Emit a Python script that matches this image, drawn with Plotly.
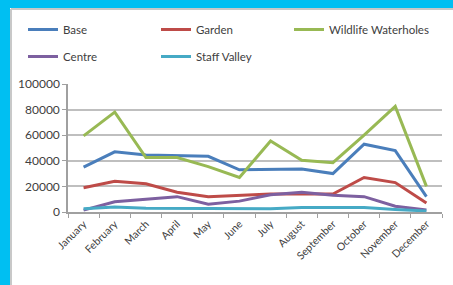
import plotly.graph_objects as go

months = ["January", "February", "March", "April", "May", "June", "July",
          "August", "September", "October", "November", "December"]
base = [35000, 47000, 44500, 44000, 43500, 33000, 33500, 33500, 30000, 53000, 48000, 12000]
garden = [19000, 24000, 22000, 15500, 12000, 13000, 14000, 14000, 14000, 27000, 23000, 7000]
wildlife = [59500, 78000, 42500, 42500, 35500, 27000, 55500, 40500, 38500, 60000, 82500, 20000]
centre = [1500, 8000, 10000, 12000, 6000, 8500, 13500, 15500, 13000, 12000, 4500, 1500]
staff = [2500, 4000, 3000, 3000, 3000, 3000, 2500, 3500, 3500, 3500, 2000, 800]

series = [
    ("Base", base, "#4A7EBB", "legend"),
    ("Garden", garden, "#BE4B48", "legend"),
    ("Wildlife Waterholes", wildlife, "#98B954", "legend"),
    ("Centre", centre, "#7D60A0", "legend2"),
    ("Staff Valley", staff, "#46AAC5", "legend2"),
]

fig = go.Figure()
for name, vals, col, lg in series:
    fig.add_trace(go.Scatter(x=months, y=vals, name=name, mode="lines", legend=lg,
                             legendwidth=115 if name == "Wildlife Waterholes" else None,
                             line=dict(color=col, width=3)))

L, R, T, B = 68, 11, 84, 73
W, H = 453, 285
pw, ph = W - L - R, H - T - B
BLUE = "#00BFF2"

def px(x):
    return (x - L) / pw

def py(y):
    return (H - B - y) / ph

# blue frame strips (left and top) and the grey panel edge
fig.add_shape(type="rect", xref="paper", yref="paper", layer="below",
              x0=px(-5), x1=px(10), y0=py(-5), y1=py(295),
              fillcolor=BLUE, line=dict(width=0))
fig.add_shape(type="rect", xref="paper", yref="paper", layer="below",
              x0=px(-5), x1=px(460), y0=py(-5), y1=py(8),
              fillcolor=BLUE, line=dict(width=0))
fig.add_shape(type="line", xref="paper", yref="paper", layer="below",
              x0=px(11), x1=px(11), y0=py(9), y1=py(295),
              line=dict(color="#c8c8c8", width=2))
fig.add_shape(type="line", xref="paper", yref="paper", layer="below",
              x0=px(11), x1=px(460), y0=py(9), y1=py(9),
              line=dict(color="#c8c8c8", width=2))

fig.add_annotation(text="g", xref="paper", yref="paper", x=px(222), y=py(-2),
                   xanchor="center", yanchor="bottom", showarrow=False,
                   font=dict(size=26, color="#222", family="Lato"))

leg_common = dict(orientation="h", xanchor="left", yanchor="top",
                  entrywidth=88, entrywidthmode="pixels", itemwidth=30,
                  font=dict(size=11.5, color="#404040"), tracegroupgap=0,
                  bgcolor="rgba(0,0,0,0)")

fig.update_layout(
    width=W, height=H,
    margin=dict(l=L, r=R, t=T, b=B, autoexpand=False),
    paper_bgcolor="white",
    plot_bgcolor="rgba(0,0,0,0)",
    font=dict(family="Lato", size=11, color="#404040"),
    showlegend=True,
    legend=dict(x=px(23), y=py(15), **leg_common),
    legend2=dict(x=px(23), y=py(42), **leg_common),
    xaxis=dict(type="category", tickson="boundaries", ticks="outside", ticklen=4,
               tickcolor="#a0a0a0", showline=True, linecolor="#a0a0a0", linewidth=1.5,
               showgrid=False, tickangle=-45, tickfont=dict(size=10.5, color="#404040"),
               range=[-0.5, 11.5], automargin=False),
    yaxis=dict(range=[0, 100000], dtick=20000, tickformat="d", ticks="outside",
               ticklen=4, tickcolor="#a0a0a0", showline=True, linecolor="#a0a0a0",
               linewidth=1.5, gridcolor="#bfbfbf", gridwidth=1.5, zeroline=False,
               tickfont=dict(size=12, color="#404040"), automargin=False),
)

fig.write_html("out.html", config={"displayModeBar": False},
               post_script="document.body.style.margin='0';document.body.style.background='white';")
